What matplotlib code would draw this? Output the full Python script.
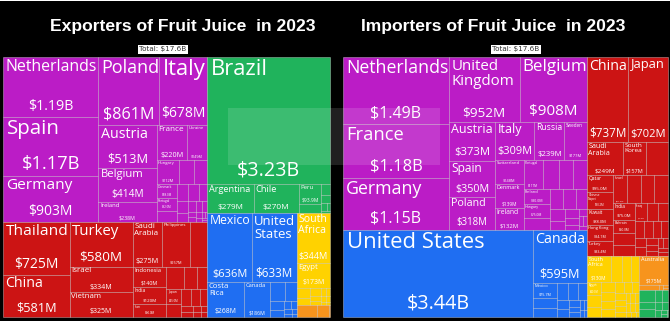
import matplotlib
matplotlib.use("Agg")
import matplotlib.pyplot as plt
from matplotlib.patches import Rectangle
from matplotlib.textpath import TextPath
from matplotlib.font_manager import FontProperties

# values in billions of USD, 2023

# ---- exporters ----
exp_europe_names = ["Netherlands", "Spain", "Germany", "Poland", "Italy", "Austria", "Belgium",
                    "Ireland", "France", "Ukraine", "Hungary", "Moldova", "Greece", "Denmark",
                    "Portugal", "United Kingdom", "Czechia", "Switzerland", "Bulgaria", "Serbia",
                    "Lithuania", "Sweden", "Slovenia", "Slovakia", "Romania", "Russia", "Croatia",
                    "Latvia", "Estonia", "Finland", "Belarus", "North Macedonia"]
exp_europe_values = [1.19, 1.17, 0.903, 0.861, 0.678, 0.513, 0.414, 0.238, 0.220, 0.149, 0.112,
                     0.0752, 0.065, 0.058, 0.052, 0.048, 0.040, 0.035, 0.030, 0.027, 0.022, 0.018,
                     0.014, 0.011, 0.009, 0.008, 0.007, 0.005, 0.004, 0.003, 0.003, 0.002]

exp_asia_names = ["Thailand", "China", "Turkey", "Israel", "Vietnam", "Saudi Arabia", "Philippines",
                  "United Arab Emirates", "Indonesia", "India", "Iran", "Malaysia", "Lebanon",
                  "South Korea", "Japan", "Chinese Taipei", "Jordan", "Pakistan", "Uzbekistan",
                  "Kuwait", "Singapore", "Hong Kong", "Sri Lanka", "Georgia", "Azerbaijan"]
exp_asia_values = [0.725, 0.581, 0.580, 0.334, 0.325, 0.275, 0.257, 0.160, 0.140, 0.120, 0.090,
                   0.080, 0.060, 0.050, 0.045, 0.040, 0.035, 0.030, 0.025, 0.015, 0.012, 0.010,
                   0.008, 0.007, 0.006]

exp_samerica_names = ["Brazil", "Argentina", "Chile", "Peru", "Ecuador", "Colombia", "Uruguay",
                      "Paraguay", "Bolivia", "Venezuela"]
exp_samerica_values = [3.23, 0.279, 0.270, 0.0939, 0.040, 0.020, 0.015, 0.010, 0.005, 0.003]

exp_namerica_names = ["Mexico", "United States", "Costa Rica", "Canada", "Guatemala", "Belize",
                      "Dominican Republic", "Honduras", "El Salvador", "Jamaica", "Panama",
                      "Trinidad and Tobago", "Nicaragua", "Cuba"]
exp_namerica_values = [0.636, 0.633, 0.268, 0.186, 0.060, 0.045, 0.030, 0.020, 0.012, 0.010,
                       0.008, 0.005, 0.004, 0.003]

exp_africa_names = ["South Africa", "Egypt", "Morocco", "Kenya", "Eswatini", "Tunisia", "Mauritius",
                    "Ghana", "Ivory Coast", "Zimbabwe", "Nigeria", "Tanzania", "Algeria"]
exp_africa_values = [0.344, 0.173, 0.030, 0.020, 0.018, 0.012, 0.010, 0.008, 0.007, 0.006, 0.005,
                     0.004, 0.003]

exp_oceania_names = ["Australia", "New Zealand", "Fiji"]
exp_oceania_values = [0.050, 0.028, 0.002]

# ---- importers ----
imp_europe_names = ["Netherlands", "France", "Germany", "United Kingdom", "Belgium", "Austria",
                    "Spain", "Poland", "Italy", "Russia", "Sweden", "Switzerland", "Denmark",
                    "Ireland", "Portugal", "Czechia", "Romania", "Norway", "Finland", "Hungary",
                    "Slovakia", "Lithuania", "Greece", "Latvia", "Ukraine", "Estonia", "Slovenia",
                    "Croatia", "Bulgaria", "Luxembourg", "Serbia", "Belarus", "Malta"]
imp_europe_values = [1.49, 1.18, 1.15, 0.952, 0.908, 0.373, 0.350, 0.318, 0.309, 0.239, 0.177,
                     0.148, 0.139, 0.132, 0.117, 0.100, 0.0875, 0.0871, 0.080, 0.075, 0.065,
                     0.055, 0.050, 0.045, 0.040, 0.030, 0.025, 0.020, 0.015, 0.012, 0.010, 0.008,
                     0.007]

imp_namerica_names = ["United States", "Canada", "Mexico", "Jamaica", "Dominican Republic", "Panama",
                      "Costa Rica", "Guatemala", "Bahamas", "Trinidad and Tobago", "Barbados",
                      "El Salvador", "Honduras", "Cayman Islands", "Aruba", "Bermuda", "Nicaragua"]
imp_namerica_values = [3.44, 0.595, 0.0757, 0.050, 0.045, 0.040, 0.035, 0.030, 0.025, 0.020,
                       0.015, 0.012, 0.010, 0.008, 0.007, 0.006, 0.005]

imp_asia_names = ["China", "Japan", "Saudi Arabia", "South Korea", "United Arab Emirates", "Qatar",
                  "Chinese Taipei", "Kuwait", "Hong Kong", "Turkey", "Israel", "Thailand", "Oman",
                  "Singapore", "India", "Bahrain", "Jordan", "Lebanon", "Iraq", "Malaysia",
                  "Philippines", "Georgia", "Kazakhstan", "Vietnam", "Azerbaijan", "Macau",
                  "Cyprus", "Uzbekistan", "Mongolia", "Pakistan", "Armenia", "Sri Lanka",
                  "Maldives", "Brunei"]
imp_asia_values = [0.737, 0.702, 0.249, 0.157, 0.150, 0.095, 0.0902, 0.088, 0.0847, 0.0834,
                   0.0812, 0.081, 0.0801, 0.080, 0.075, 0.060, 0.0516, 0.050, 0.045, 0.040,
                   0.038, 0.034, 0.030, 0.028, 0.025, 0.022, 0.020, 0.018, 0.015, 0.013, 0.012,
                   0.010, 0.009, 0.008]

imp_africa_names = ["South Africa", "Nigeria", "Morocco", "Ghana", "Egypt", "Ivory Coast", "Angola",
                    "Kenya", "Libya", "Algeria", "Mauritius", "Senegal", "Namibia", "Botswana",
                    "Tunisia", "Cameroon", "Gabon", "Congo", "Mozambique", "Benin", "Togo",
                    "Djibouti", "Zambia", "Tanzania", "Guinea", "Seychelles", "Madagascar"]
imp_africa_values = [0.130, 0.060, 0.050, 0.045, 0.040, 0.035, 0.030, 0.028, 0.026, 0.025, 0.022,
                     0.020, 0.018, 0.017, 0.015, 0.014, 0.012, 0.011, 0.010, 0.010, 0.009, 0.008,
                     0.008, 0.007, 0.006, 0.005, 0.004]

imp_oceania_names = ["Australia", "New Zealand", "French Polynesia", "New Caledonia", "Fiji"]
imp_oceania_values = [0.175, 0.020, 0.004, 0.003, 0.002]

imp_samerica_names = ["Chile", "Peru", "Colombia", "Uruguay", "Ecuador", "Brazil", "Paraguay",
                      "Bolivia", "Argentina", "Guyana", "Suriname"]
imp_samerica_values = [0.040, 0.025, 0.025, 0.018, 0.015, 0.012, 0.010, 0.008, 0.005, 0.003, 0.002]

colors = {
    "Europe": "#BB1CC6",
    "Asia": "#CC1414",
    "South America": "#20B35C",
    "North America": "#1F6EF2",
    "Africa": "#FFD200",
    "Oceania": "#F7941D",
}

exporters = {
    "Europe": (exp_europe_names, exp_europe_values),
    "Asia": (exp_asia_names, exp_asia_values),
    "South America": (exp_samerica_names, exp_samerica_values),
    "North America": (exp_namerica_names, exp_namerica_values),
    "Africa": (exp_africa_names, exp_africa_values),
    "Oceania": (exp_oceania_names, exp_oceania_values),
}
importers = {
    "Europe": (imp_europe_names, imp_europe_values),
    "North America": (imp_namerica_names, imp_namerica_values),
    "Asia": (imp_asia_names, imp_asia_values),
    "Africa": (imp_africa_names, imp_africa_values),
    "Oceania": (imp_oceania_names, imp_oceania_values),
    "South America": (imp_samerica_names, imp_samerica_values),
}

PHI = (1 + 5 ** 0.5) / 2
FONT = FontProperties(family="Open Sans")


def squarify(values, x0, y0, x1, y1):
    # d3 style squarified layout (values sorted descending), y grows downwards
    rects = []
    total = float(sum(values))
    n = len(values)
    i0 = 0
    while i0 < n:
        dx, dy = x1 - x0, y1 - y0
        s = values[i0]
        i1 = i0 + 1
        vmin = vmax = s
        alpha = max(dy / dx, dx / dy) / (total * PHI)
        beta = s * s * alpha
        best = max(vmax / beta, beta / vmin)
        while i1 < n:
            v = values[i1]
            beta = (s + v) ** 2 * alpha
            r = max(max(vmax, v) / beta, beta / min(vmin, v))
            if r > best:
                break
            s += v
            vmin, vmax, best = min(vmin, v), max(vmax, v), r
            i1 += 1
        row = values[i0:i1]
        if dx < dy:
            h = dy * s / total if i1 < n else dy
            xx = x0
            for v in row:
                w = dx * v / s
                rects.append((xx, y0, w, h))
                xx += w
            y0 += h
        else:
            w = dx * s / total if i1 < n else dx
            yy = y0
            for v in row:
                h = dy * v / s
                rects.append((x0, yy, w, h))
                yy += h
            x0 += w
        total -= s
        i0 = i1
    return rects


def text_w(s, size_px):
    return TextPath((0, 0), s, size=size_px, prop=FONT).get_extents().width


def fmt(v):
    if v >= 1:
        return "$%.2fB" % v
    if v >= 0.1:
        return "$%.0fM" % (v * 1000)
    return "$%.1fM" % (v * 1000)


def label_tile(ax, name, value, x, y, w, h):
    words = name.split()
    cands = [name]
    for k in range(1, len(words)):
        cands.append(" ".join(words[:k]) + "\n" + " ".join(words[k:]))
    best_fs, best_txt = 0, name
    for c in cands:
        lines = c.split("\n")
        wpx = max(text_w(l, 10) for l in lines) / 10
        fs = min(22, (w - 6) / wpx, (h - 4) / ((len(lines) + 1) * 1.35))
        if fs > best_fs:
            best_fs, best_txt = fs, c
    if best_fs < 3:
        return
    val = fmt(value)
    vfs = min(best_fs * 0.9, (w - 6) / (text_w(val, 10) / 10))
    pad = max(1.5, best_fs * 0.18)
    ax.text(x + pad, y + pad * 0.6, best_txt, fontsize=best_fs * 0.72, color="white",
            ha="left", va="top", linespacing=1.0, fontproperties=FONT)
    ax.text(x + w / 2, y + h - pad * 1.0, val, fontsize=vfs * 0.72, color="white",
            ha="center", va="bottom", fontproperties=FONT)


def draw_treemap(ax, data, x0, y0, x1, y1):
    groups = sorted(data.items(), key=lambda kv: -sum(kv[1][1]))
    totals = [sum(v) for _, (n, v) in groups]
    for (cont, (names, vals)), r in zip(groups, squarify(totals, x0, y0, x1, y1)):
        order = sorted(range(len(vals)), key=lambda i: -vals[i])
        sv = [vals[i] for i in order]
        gx, gy, gw, gh = r
        for i, (tx, ty, tw, th) in zip(order, squarify(sv, gx, gy, gx + gw, gy + gh)):
            ax.add_patch(Rectangle((tx, ty), tw, th, facecolor=colors[cont],
                                   edgecolor=(1, 1, 1, 0.45), linewidth=0.5))
            label_tile(ax, names[i], vals[i], tx, ty, tw, th)


fig = plt.figure(figsize=(6.72, 3.32), dpi=100, facecolor="white")
ax = fig.add_axes([0, 0, 1, 1])
ax.set_xlim(0, 672)
ax.set_ylim(332, 0)
ax.axis("off")

# black screenshot background, white strip below it
ax.add_patch(Rectangle((0, 1), 670, 320, facecolor="black", edgecolor="none", zorder=0))

draw_treemap(ax, exporters, 3, 57, 330, 317)
draw_treemap(ax, importers, 343, 57, 668, 317)

# faint watermark box
ax.add_patch(Rectangle((228, 108), 212, 57, facecolor=(1, 1, 1, 0.13), edgecolor="none", zorder=5))

title_font = dict(family="Liberation Sans", weight="bold", fontsize=12.6, color="white",
                  ha="center", va="center")
ax.text(183, 27, "Exporters of Fruit Juice  in 2023", **title_font)
ax.text(493, 27, "Importers of Fruit Juice  in 2023", **title_font)

box = dict(facecolor="white", edgecolor="none", pad=1.2)
ax.text(163, 49.5, "Total: $17.6B", fontsize=5.2, color="#333333", ha="center", va="center",
        bbox=box)
ax.text(516, 49.5, "Total: $17.6B", fontsize=5.2, color="#333333", ha="center", va="center",
        bbox=box)

fig.savefig("out.png", dpi=100, facecolor="white")
